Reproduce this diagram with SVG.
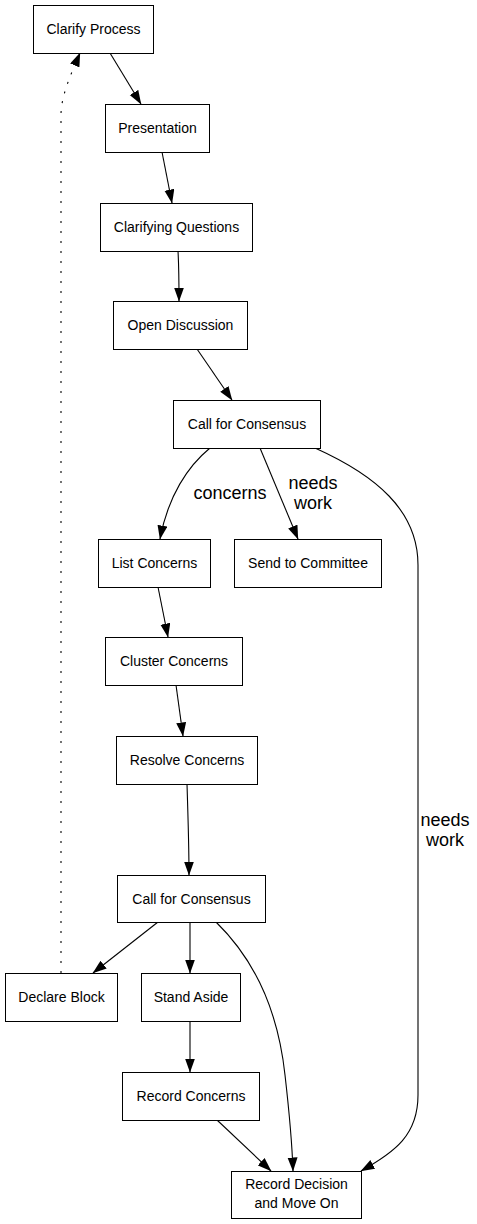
<svg xmlns="http://www.w3.org/2000/svg" width="477" height="1224" viewBox="0 0 477 1224">
<style>
.node rect{fill:#fff;stroke:#000;stroke-width:1}
.node text{font-family:"Liberation Sans",Arial,sans-serif;font-size:14px;text-anchor:middle;fill:#000}
.edge{fill:none;stroke:#000;stroke-width:1.1}
.dot{stroke-dasharray:2 8}
.lbl{font-family:"Liberation Sans",Arial,sans-serif;font-size:18px;text-anchor:middle;fill:#000}
</style>
<defs>
<marker id="ah" markerUnits="userSpaceOnUse" markerWidth="15" markerHeight="11" refX="13.5" refY="5" orient="auto">
<path d="M0,0 L14,5 L0,10 z" fill="#000"/>
</marker>
</defs>
<rect width="477" height="1224" fill="#fff"/>
<g id="connectors">
<path class="edge" marker-end="url(#ah)" d="M110,53 L141,104"/>
<path class="edge" marker-end="url(#ah)" d="M162,152 L172,203"/>
<path class="edge" marker-end="url(#ah)" d="M178,251 C179,268 179,284 179,301"/>
<path class="edge" marker-end="url(#ah)" d="M197,349 L232,400"/>
<path class="edge" marker-end="url(#ah)" d="M210,448 C188,466 168,496 160,539"/>
<path class="edge" marker-end="url(#ah)" d="M260,448 L298,539"/>
<path class="edge" marker-end="url(#ah)" d="M315,448 C375,475 418,510 418,565 L418,1095 C418,1135 395,1152 361,1171"/>
<path class="edge" marker-end="url(#ah)" d="M158,587 L168,637"/>
<path class="edge" marker-end="url(#ah)" d="M176,685 L183,736"/>
<path class="edge" marker-end="url(#ah)" d="M187,784 C188,815 189,845 189,875"/>
<path class="edge" marker-end="url(#ah)" d="M158,922 L93,973"/>
<path class="edge" marker-end="url(#ah)" d="M190,922 L190,973"/>
<path class="edge" marker-end="url(#ah)" d="M216,922 C255,960 278,1010 285,1075 C289,1110 292,1140 293,1171"/>
<path class="edge" marker-end="url(#ah)" d="M190,1021 L190,1072"/>
<path class="edge" marker-end="url(#ah)" d="M217,1120 L271,1171"/>
<path class="edge dot" marker-end="url(#ah)" d="M61,973 L61,115 C61,95 72,72 80,53"/>
<text class="lbl" x="230" y="499">concerns</text>
<text class="lbl" x="313" y="489">needs</text>
<text class="lbl" x="313" y="509">work</text>
<text class="lbl" x="445" y="826">needs</text>
<text class="lbl" x="445" y="846">work</text>
</g>
<g id="clarify-process" class="node"><rect x="33.5" y="5.5" width="120" height="48"/><text x="93.5" y="34">Clarify Process</text></g>
<g id="presentation" class="node"><rect x="105.5" y="104.5" width="104" height="48"/><text x="157.5" y="133">Presentation</text></g>
<g id="clarifying-questions" class="node"><rect x="100.5" y="203.5" width="152" height="48"/><text x="176.5" y="232">Clarifying Questions</text></g>
<g id="open-discussion" class="node"><rect x="113.5" y="301.5" width="134" height="48"/><text x="180.5" y="330">Open Discussion</text></g>
<g id="call-for-consensus-1" class="node"><rect x="173.5" y="400.5" width="147" height="48"/><text x="247" y="429">Call for Consensus</text></g>
<g id="list-concerns" class="node"><rect x="98.5" y="539.5" width="112" height="48"/><text x="154.5" y="568">List Concerns</text></g>
<g id="send-to-committee" class="node"><rect x="234.5" y="539.5" width="147" height="48"/><text x="308" y="568">Send to Committee</text></g>
<g id="cluster-concerns" class="node"><rect x="105.5" y="637.5" width="137" height="48"/><text x="174" y="666">Cluster Concerns</text></g>
<g id="resolve-concerns" class="node"><rect x="116.5" y="736.5" width="141" height="48"/><text x="187" y="765">Resolve Concerns</text></g>
<g id="call-for-consensus-2" class="node"><rect x="117.5" y="875.5" width="148" height="47"/><text x="191.5" y="904">Call for Consensus</text></g>
<g id="declare-block" class="node"><rect x="5.5" y="973.5" width="112" height="48"/><text x="61.5" y="1002">Declare Block</text></g>
<g id="stand-aside" class="node"><rect x="141.5" y="973.5" width="99" height="48"/><text x="191" y="1002">Stand Aside</text></g>
<g id="record-concerns" class="node"><rect x="122.5" y="1072.5" width="137" height="48"/><text x="191" y="1101">Record Concerns</text></g>
<g id="record-decision" class="node"><rect x="231.5" y="1171.5" width="130" height="47"/><text x="296.5" y="1189">Record Decision</text><text x="296.5" y="1208">and Move On</text></g>
</svg>
